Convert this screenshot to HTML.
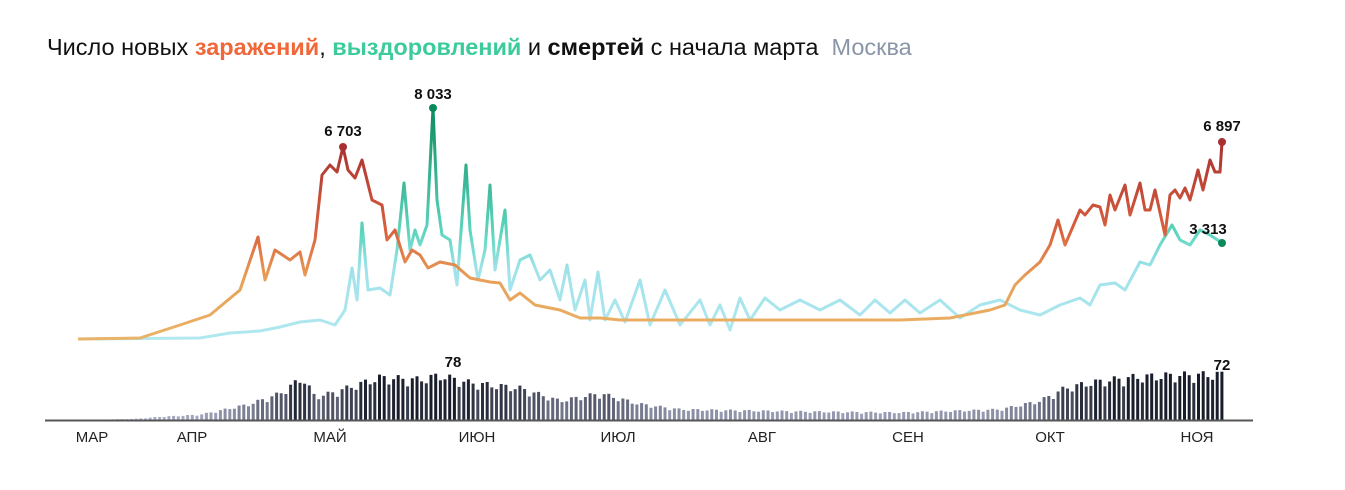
<!DOCTYPE html>
<html><head><meta charset="utf-8"><style>
body{margin:0;background:#fff;width:1345px;height:490px;overflow:hidden;font-family:"Liberation Sans","DejaVu Sans",sans-serif}
.t{position:absolute;left:47px;top:34px;font-size:23.5px;color:#111;white-space:nowrap}
</style></head><body>
<div class="t">Число новых <b style="color:#f0673a">заражений</b>, <b style="color:#3ccb9a">выздоровлений</b> и <b>смертей</b> с начала марта <span style="color:#8a95a8">&nbsp;Москва</span></div>
<svg id="s" width="1345" height="490" style="position:absolute;left:0;top:0">
<defs>
<linearGradient id="gi" gradientUnits="userSpaceOnUse" x1="0" y1="340" x2="0" y2="140"><stop offset="0" stop-color="#eab468"/><stop offset="0.3" stop-color="#e8a058"/><stop offset="0.55" stop-color="#d8603e"/><stop offset="1" stop-color="#a82e30"/></linearGradient>
<linearGradient id="gr" gradientUnits="userSpaceOnUse" x1="0" y1="340" x2="0" y2="105"><stop offset="0" stop-color="#b2e8f0"/><stop offset="0.3" stop-color="#a0e2ea"/><stop offset="0.45" stop-color="#5fd6c0"/><stop offset="1" stop-color="#0a8a5a"/></linearGradient>
</defs>
<g id="bars"></g>
<line x1="45" y1="420.5" x2="1253" y2="420.5" stroke="#555" stroke-width="2"/>
<path id="pr" fill="none" stroke="url(#gr)" stroke-width="3" stroke-linejoin="round"/>
<path id="pi" fill="none" stroke="url(#gi)" stroke-width="3" stroke-linejoin="round"/>
<circle cx="343" cy="147" r="4" fill="#a82e30"/><circle cx="433" cy="108" r="4" fill="#0a8a5a"/>
<circle cx="1222" cy="142" r="4" fill="#a82e30"/><circle cx="1222" cy="243" r="4" fill="#0a8a5a"/>
<g font-weight="bold" font-size="15" fill="#111" text-anchor="middle">
<text x="343" y="136">6 703</text><text x="433" y="99">8 033</text><text x="1222" y="131">6 897</text><text x="1208" y="234">3 313</text>
<text x="453" y="367">78</text><text x="1222" y="370">72</text></g>
<g font-size="15" fill="#222" text-anchor="middle">
<text x="92" y="442">МАР</text><text x="192" y="442">АПР</text><text x="330" y="442">МАЙ</text><text x="477" y="442">ИЮН</text><text x="618" y="442">ИЮЛ</text><text x="762" y="442">АВГ</text><text x="908" y="442">СЕН</text><text x="1050" y="442">ОКТ</text><text x="1197" y="442">НОЯ</text></g>
</svg>
<script>
var inf=[[78,339],[140,338],[180,325],[210,315],[240,290],[258,237],[265,280],[275,250],[290,260],[300,252],[305,275],[315,240],[322,175],[330,165],[337,172],[343,147],[348,170],[355,178],[362,160],[372,200],[382,205],[387,240],[395,230],[405,262],[412,250],[420,255],[428,268],[440,262],[455,265],[470,278],[490,282],[500,283],[510,300],[520,293],[535,305],[560,310],[580,318],[600,318],[620,320],[700,320],[850,320],[900,320],[950,318],[990,310],[1005,305],[1015,285],[1025,275],[1040,262],[1050,245],[1058,220],[1065,245],[1080,210],[1085,215],[1093,205],[1100,207],[1105,225],[1110,195],[1115,210],[1125,185],[1130,215],[1140,183],[1145,210],[1150,210],[1155,190],[1165,235],[1170,195],[1175,190],[1180,198],[1185,188],[1190,200],[1198,170],[1203,190],[1210,160],[1215,172],[1220,172],[1222,142]];
var rec=[[78,339],[200,338],[230,333],[260,331],[280,327],[300,322],[320,320],[335,325],[345,310],[352,268],[357,300],[362,223],[368,290],[380,288],[390,295],[397,250],[404,183],[410,250],[415,230],[420,245],[427,225],[433,108],[437,200],[442,235],[450,240],[457,285],[466,165],[470,230],[478,280],[485,250],[490,185],[495,270],[505,210],[510,290],[520,260],[530,255],[540,280],[550,270],[560,300],[567,265],[575,310],[585,280],[590,320],[598,272],[605,320],[615,300],[625,322],[640,280],[650,325],[665,290],[680,325],[700,300],[710,325],[720,305],[730,330],[740,298],[750,320],[765,298],[780,310],[800,300],[820,310],[840,300],[860,315],[875,300],[890,313],[905,300],[920,313],[940,300],[960,318],[980,305],[1000,300],[1020,310],[1040,315],[1060,305],[1080,298],[1090,305],[1100,285],[1115,283],[1125,290],[1140,262],[1150,265],[1160,245],[1172,225],[1180,240],[1190,245],[1200,230],[1210,235],[1222,243]];
function d(a){return "M"+a.map(function(p){return p[0]+","+p[1]}).join("L")}
document.getElementById("pi").setAttribute("d",d(inf));
document.getElementById("pr").setAttribute("d",d(rec));
var env=[[78,0],[135,1],[160,3],[200,5],[215,8],[250,15],[280,25],[303,40],[315,22],[330,25],[380,40],[420,38],[440,42],[470,35],[520,30],[560,18],[600,25],[640,15],[680,10],[800,8],[900,7],[1000,10],[1040,18],[1065,30],[1090,35],[1130,40],[1170,42],[1222,43]];
function ev(x){for(var i=1;i<env.length;i++){if(x<=env[i][0]){var a=env[i-1],b=env[i],t=(x-a[0])/(b[0]-a[0]);return a[1]+t*(b[1]-a[1]);}}return 43}
var g="",n=0;
for(var x=80;x<=1222;x+=4.68){n++;var h=ev(x);h=h*(0.85+0.3*Math.abs(Math.sin(n*2.3)));if(h<0.5)continue;
var c=Math.min(1,h/42);var r=Math.round(180-155*c),gg=Math.round(184-155*c),bb=Math.round(208-165*c);
g+='<rect x="'+(x-1.5).toFixed(1)+'" y="'+(420-h).toFixed(1)+'" width="3" height="'+h.toFixed(1)+'" fill="rgb('+r+','+gg+','+bb+')"/>';}
document.getElementById("bars").innerHTML=g;
</script>
</body></html>
